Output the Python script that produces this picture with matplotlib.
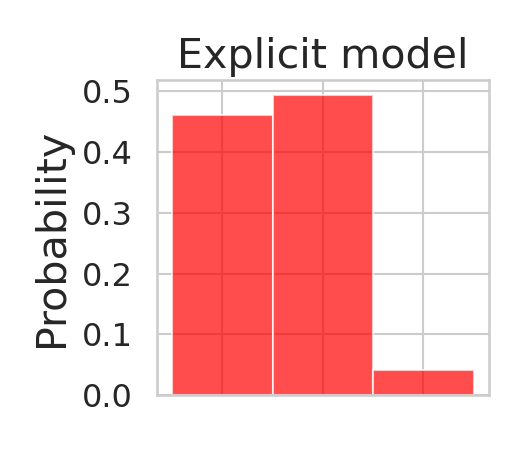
import matplotlib
matplotlib.use("Agg")
import matplotlib.pyplot as plt
import seaborn as sns

# data
categories = [0, 1, 2]
probs = [0.461, 0.494, 0.042]

sns.set_style("whitegrid")
plt.rcParams['font.family'] = ['DejaVu Sans']

fig = plt.figure(figsize=(3.5, 3), dpi=150)
ax = fig.add_axes([0.299, 0.122, 0.632, 0.700])

ax.bar(categories, probs, width=1.0, color="red", alpha=0.7,
       edgecolor="white", linewidth=1.0)

ax.set_xticks(categories)
ax.set_xticklabels([])
ax.set_yticks([0.0, 0.1, 0.2, 0.3, 0.4, 0.5])
ax.set_yticklabels(["0.0", "0.1", "0.2", "0.3", "0.4", "0.5"])
ax.tick_params(axis="both", length=0, pad=11.5, labelsize=15.4, colors=".15")
ax.grid(True, color=".8", linewidth=1.0)
ax.set_axisbelow(True)
for s in ax.spines.values():
    s.set_color(".8")
    s.set_linewidth(1.25)

ax.set_title("Explicit model", fontsize=19.8, color=".15", pad=6)
ax.set_ylabel("Probability", fontsize=19.8, color=".15", labelpad=5)

fig.savefig("out.png", dpi=150)
